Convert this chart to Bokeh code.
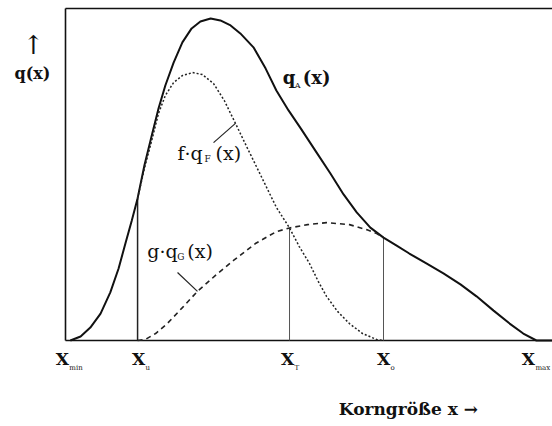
from bokeh.plotting import figure
from bokeh.models import Range1d, Label
from bokeh.embed import file_html
from bokeh.resources import INLINE

# ---- data (arbitrary units, read from the schematic) ----
tick_names = ["min", "u", "T", "o", "max"]
tick_x = [1.0, 14.8, 46.0, 65.3, 96.7]

qa_x = [1.0, 3.1, 5.1, 7.2, 9.2, 10.9, 12.3, 13.6, 14.8, 16.2, 17.7, 19.1, 20.5, 22.2,
        24.0, 25.9, 27.7, 29.8, 31.8, 33.9, 35.9, 38.6, 41.1, 43.3, 45.8, 48.3, 51.3,
        54.4, 57.1, 59.8, 62.6, 65.3, 68.0, 70.6, 74.1, 77.6, 81.1, 84.4, 87.9, 91.2,
        94.0, 96.7, 100.0]
qa_y = [0.0, 1.2, 3.9, 8.1, 14.5, 21.7, 29.2, 36.1, 42.8, 52.7, 61.7, 69.9, 76.8, 83.7,
        89.8, 94.0, 96.1, 97.0, 96.4, 94.9, 92.5, 88.3, 81.9, 75.3, 69.3, 63.9, 57.2,
        50.3, 44.0, 38.6, 34.0, 31.0, 28.6, 26.2, 23.2, 20.2, 16.9, 13.3, 9.0, 5.1,
        2.1, 0.0, 0.0]

fq_x = [14.8, 16.2, 17.7, 19.1, 20.5, 22.2, 24.0, 26.1, 28.1, 30.4, 32.6, 34.9, 36.8,
        38.6, 41.1, 43.3, 46.0, 48.0, 50.1, 51.9, 53.6, 55.9, 58.3, 61.0, 63.9, 65.3]
fq_y = [42.8, 51.8, 60.2, 68.4, 73.8, 77.7, 79.8, 80.7, 80.1, 77.4, 72.3, 65.4, 59.6,
        54.2, 46.7, 40.1, 33.9, 28.3, 23.2, 17.8, 13.3, 8.7, 5.1, 2.1, 0.3, 0.0]

gq_x = [14.8, 16.4, 18.5, 20.9, 24.0, 27.1, 30.8, 34.5, 39.0, 43.3, 46.0, 49.7, 53.6,
        58.3, 61.8, 63.9, 65.3]
gq_y = [0.0, 0.3, 2.1, 5.1, 9.9, 14.8, 19.6, 24.1, 29.2, 32.8, 33.9, 34.9, 35.5,
        34.9, 33.4, 32.2, 31.0]

# plotting box (data extent) - frame lines are drawn along it
BOX_X = (0.0, 100.0)
BOX_Y = (0.0, 100.0)


def y_at(xs, ys, x0):
    return ys[xs.index(x0)]


guide_x = [tick_x[1], tick_x[2], tick_x[3]]
guide_top = [y_at(qa_x, qa_y, tick_x[1]), y_at(fq_x, fq_y, tick_x[2]), y_at(qa_x, qa_y, tick_x[3])]

SERIF = "DejaVu Serif"
W, H = 552, 426
# pixel layout of the box inside the canvas
BOX_L, BOX_R, BOX_T, BOX_B = 65, 552, 8, 340
sx = (BOX_R - BOX_L) / (BOX_X[1] - BOX_X[0])
sy = (BOX_B - BOX_T) / (BOX_Y[1] - BOX_Y[0])
x_range = Range1d(BOX_X[0] - BOX_L / sx, BOX_X[1] + (W - BOX_R) / sx)
y_range = Range1d(BOX_Y[0] - (H - BOX_B) / sy, BOX_Y[1] + BOX_T / sy)

p = figure(width=W, height=H, x_range=x_range, y_range=y_range,
           output_backend="svg", toolbar_location=None,
           x_axis_type=None, y_axis_type=None,
           min_border=0, min_border_left=0, min_border_right=0,
           min_border_top=0, min_border_bottom=0)
p.outline_line_color = None
p.background_fill_color = "white"
p.border_fill_color = "white"
p.grid.visible = False

# frame: left, top, bottom
p.segment(x0=[BOX_X[0], BOX_X[0], BOX_X[0]], y0=[BOX_Y[0], BOX_Y[1], BOX_Y[0]],
          x1=[BOX_X[0], BOX_X[1], BOX_X[1]], y1=[BOX_Y[1], BOX_Y[1], BOX_Y[0]],
          line_color="#111111", line_width=1.6)

# vertical guides
p.segment(x0=guide_x[:1], y0=[BOX_Y[0]], x1=guide_x[:1], y1=guide_top[:1], line_color="#222222", line_width=1.5)
p.segment(x0=guide_x[1:], y0=[BOX_Y[0]] * 2, x1=guide_x[1:], y1=guide_top[1:], line_color="#555555", line_width=1)

# curves
p.line(qa_x, qa_y, line_color="#111111", line_width=2)
p.line(fq_x, fq_y, line_color="#222222", line_width=1.5, line_dash="2 2")
p.line(gq_x, gq_y, line_color="#222222", line_width=1.6, line_dash="5 4")

# leader lines for the curve labels
p.segment(x0=[30.4], y0=[59.6], x1=[34.9], y1=[65.4], line_color="#222222", line_width=1.2)
p.segment(x0=[23.0], y0=[20.5], x1=[27.1], y1=[14.8], line_color="#222222", line_width=1.2)


def lab(x, y, text, size, dx=0, dy=0, align="left", bold=False):
    p.add_layout(Label(x=x, y=y, x_offset=dx, y_offset=dy, text=text,
                       text_font=SERIF, text_font_size=f"{size}px",
                       text_font_style="bold" if bold else "normal",
                       text_align=align, text_baseline="middle", text_color="#111111"))


# tick labels X with subscripts
x_dx = [-8, 1, -2, 0, -8]
for name, tx, dx in zip(tick_names, tick_x, x_dx):
    lab(tx, BOX_Y[0], "X", 17, dx=dx, dy=-18, align="center", bold=True)
    lab(tx, BOX_Y[0], name, 7, dx=dx + 7, dy=-27, align="left")

# axis titles
lab(70.4, BOX_Y[0], "Korngröße x →", 17, dy=-68, align="center", bold=True)
lab(BOX_X[0], BOX_Y[1], "↑", 26, dx=-32, dy=-36, align="center")
lab(BOX_X[0], BOX_Y[1], "q(x)", 16, dx=-33, dy=-65, align="center", bold=True)

# curve labels
lab(44.6, 79.2, "q", 18, bold=True)
lab(44.6, 79.2, "A", 8, dx=12, dy=-8)
lab(44.6, 79.2, "(x)", 18, dx=20, bold=True)

lab(23.0, 56.6, "f·q", 19)
lab(23.0, 56.6, "F", 9, dx=27, dy=-6)
lab(23.0, 56.6, "(x)", 19, dx=38)

lab(16.8, 27.1, "g·q", 19)
lab(16.8, 27.1, "G", 9, dx=30, dy=-6)
lab(16.8, 27.1, "(x)", 19, dx=40)

open("out.html", "w").write(file_html(p, INLINE))
